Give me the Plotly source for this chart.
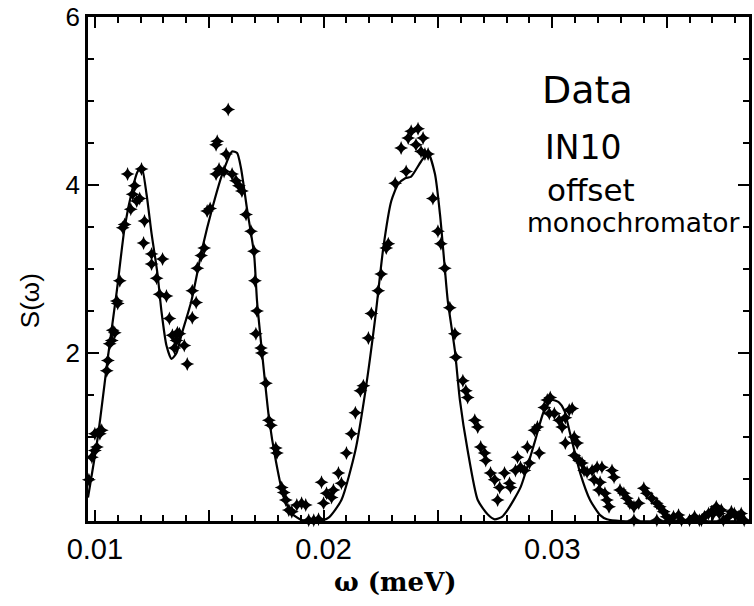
import plotly.graph_objects as go

# Model curve S(omega)
curve_omega = [0.00970, 0.01013, 0.01057, 0.01096, 0.01130, 0.01165, 0.01185, 0.01204,
               0.01226, 0.01248, 0.01274, 0.01291, 0.01313, 0.01335, 0.01357, 0.01378,
               0.01422, 0.01470, 0.01513, 0.01557, 0.01600, 0.01622, 0.01639, 0.01665,
               0.01696, 0.01709, 0.01730, 0.01761, 0.01791, 0.01826, 0.01861, 0.01904,
               0.01978, 0.02022, 0.02078, 0.02139, 0.02183, 0.02226, 0.02261, 0.02296,
               0.02326, 0.02357, 0.02383, 0.02426, 0.02457, 0.02487, 0.02509, 0.02530,
               0.02543, 0.02574, 0.02596, 0.02630, 0.02674, 0.02717, 0.02748, 0.02780,
               0.02804, 0.02861, 0.02922, 0.02965, 0.03000, 0.03030, 0.03052, 0.03078,
               0.03122, 0.03165, 0.03209, 0.03239, 0.03300, 0.03860]
curve_s = [0.28, 1.00, 1.95, 2.74, 3.49, 3.96, 4.15, 4.22,
           3.89, 3.42, 2.94, 2.50, 2.09, 1.93, 2.00, 2.21,
           2.62, 3.25, 3.72, 4.13, 4.40, 4.38, 4.20, 3.72,
           3.18, 2.62, 2.03, 1.23, 0.72, 0.28, 0.09, 0.01,
           0.00, 0.04, 0.25, 0.84, 1.55, 2.42, 3.25, 3.81,
           4.01, 4.08, 4.10, 4.28, 4.38, 4.13, 3.65, 3.01,
           2.62, 2.03, 1.44, 0.84, 0.25, 0.08, 0.02, 0.05,
           0.13, 0.40, 0.93, 1.32, 1.44, 1.41, 1.32, 1.04,
           0.57, 0.25, 0.07, 0.02, 0.00, 0.00]

# Measured data points (IN10, offset monochromator)
data_omega = [0.00974, 0.00987, 0.01000, 0.01000, 0.01009, 0.01022, 0.01022, 0.01030,
              0.01052, 0.01057, 0.01065, 0.01074, 0.01078, 0.01087, 0.01096, 0.01100,
              0.01109, 0.01122, 0.01130, 0.01143, 0.01157, 0.01165, 0.01174, 0.01183,
              0.01196, 0.01204, 0.01217, 0.01213, 0.01248, 0.01248, 0.01270, 0.01283,
              0.01296, 0.01313, 0.01326, 0.01339, 0.01348, 0.01357, 0.01361, 0.01370,
              0.01391, 0.01404, 0.01426, 0.01443, 0.01426, 0.01448, 0.01465, 0.01478,
              0.01491, 0.01504, 0.01530, 0.01543, 0.01565, 0.01530, 0.01535, 0.01574,
              0.01583, 0.01600, 0.01617, 0.01630, 0.01643, 0.01661, 0.01683, 0.01696,
              0.01700, 0.01709, 0.01704, 0.01726, 0.01730, 0.01748, 0.01761, 0.01770,
              0.01791, 0.01796, 0.01817, 0.01826, 0.01835, 0.01848, 0.01861, 0.01883,
              0.01904, 0.01922, 0.01870, 0.01935, 0.01957, 0.01978, 0.01991, 0.02000,
              0.02013, 0.02035, 0.02043, 0.02065, 0.02078, 0.02100, 0.02122, 0.02139,
              0.02161, 0.02174, 0.02196, 0.02209,
              0.02239, 0.02252, 0.02274, 0.02283, 0.02313, 0.02339, 0.02361, 0.02370,
              0.02383, 0.02404, 0.02413, 0.02426, 0.02435, 0.02443, 0.02457, 0.02478,
              0.02500, 0.02513, 0.02530, 0.02552, 0.02574, 0.02578, 0.02609, 0.02622,
              0.02630, 0.02661, 0.02674, 0.02687, 0.02704, 0.02709, 0.02730, 0.02748,
              0.02770, 0.02761, 0.02791, 0.02813, 0.02817, 0.02848, 0.02839, 0.02861,
              0.02878, 0.02900, 0.02891, 0.02922, 0.02935, 0.02943, 0.02965, 0.02978,
              0.02991, 0.02987, 0.03009, 0.03030, 0.03043, 0.03057, 0.03074, 0.03087,
              0.03057, 0.03096, 0.03109, 0.03096, 0.03117, 0.03130, 0.03139, 0.03152,
              0.03174, 0.03196, 0.03217, 0.03261, 0.03270, 0.03183, 0.03209, 0.03204,
              0.03230, 0.03239, 0.03248, 0.03296, 0.03313, 0.03326, 0.03339, 0.03357,
              0.03378, 0.03400, 0.03413, 0.03435, 0.03457, 0.03470, 0.03357, 0.03370,
              0.03391, 0.03422, 0.03487, 0.03500, 0.03513, 0.03509, 0.03530, 0.03552,
              0.03565, 0.03574, 0.03587, 0.03600, 0.03622, 0.03643, 0.03665, 0.03683,
              0.03704, 0.03717, 0.03730, 0.03748, 0.03752, 0.03770, 0.03783, 0.03796,
              0.03813, 0.03826, 0.03839, 0.03848, 0.03630, 0.03696, 0.03739, 0.03804,
              0.03652, 0.03543, 0.03457]
data_s = [0.49, 0.76, 0.84, 1.04, 0.88, 1.08, 1.04, 1.08,
          1.79, 1.91, 2.11, 2.15, 2.27, 2.24, 2.62, 2.59,
          2.86, 3.49, 3.53, 4.13, 3.71, 3.89, 3.99, 3.81,
          3.84, 4.19, 3.57, 3.31, 3.18, 3.06, 2.89, 2.70,
          3.12, 2.68, 2.41, 2.21, 2.06, 2.15, 2.24, 2.23,
          2.09, 1.87, 2.42, 2.60, 2.74, 3.01, 3.16, 3.25,
          3.69, 3.72, 4.13, 4.19, 4.16, 4.48, 4.52, 4.37,
          4.90, 4.13, 4.05, 3.99, 3.93, 3.65, 3.45, 3.21,
          2.86, 2.50, 2.23, 2.06, 2.00, 1.64, 1.20, 1.14,
          0.87, 0.81, 0.40, 0.34, 0.25, 0.13, 0.11, 0.19,
          0.21, 0.19, -0.07, 0.01, 0.01, 0.02, 0.46, 0.21,
          0.33, 0.28, 0.37, 0.57, 0.45, 0.81, 1.04, 1.29,
          1.55, 1.61, 2.18, 2.47,
          2.74, 2.94, 3.25, 3.30, 4.02, 4.44, 4.16, 4.56,
          4.64, 4.48, 4.67, 4.40, 4.56, 4.37, 4.37, 3.84,
          3.45, 3.30, 3.01, 2.54, 2.23, 1.95, 1.67, 1.55,
          1.47, 1.20, 1.12, 0.88, 0.81, 0.72, 0.57, 0.49,
          0.40, 0.25, 0.57, 0.45, 0.40, 0.76, 0.60, 0.64,
          0.60, 0.69, 0.88, 1.08, 1.12, 0.81, 1.35, 1.44,
          1.47, 1.28, 1.28, 1.20, 1.12, 1.23, 1.32, 1.34,
          0.93, 1.00, 0.93, 0.78, 0.72, 0.69, 0.60, 0.58,
          0.60, 0.64, 0.64, 0.60, 0.52, 0.49, 0.46, 0.37,
          0.33, 0.25, 0.17, 0.37, 0.33, 0.27, 0.21, 0.17,
          0.21, 0.39, 0.33, 0.27, 0.21, 0.17, 0.01, -0.05,
          -0.02, -0.07, 0.11, 0.05, 0.01, -0.14, 0.05, 0.07,
          0.01, -0.11, -0.07, 0.01, 0.05, 0.01, 0.05, 0.09,
          0.09, 0.17, 0.09, 0.01, -0.13, 0.05, 0.11, 0.09,
          0.05, 0.09, 0.01, -0.05, -0.05, 0.11, 0.13, -0.02,
          0.01, -0.05, 0.01]

x_tick_vals = [0.01, 0.015, 0.02, 0.025, 0.03, 0.035]
x_tick_text = ["0.01", "", "0.02", "", "0.03", ""]
x_minor_vals = [0.011, 0.012, 0.013, 0.014, 0.016, 0.017, 0.018, 0.019, 0.021, 0.022,
                0.023, 0.024, 0.026, 0.027, 0.028, 0.029, 0.031, 0.032, 0.033, 0.034,
                0.036, 0.037, 0.038]
y_tick_vals = [2, 4, 6]
y_tick_text = ["2", "4", "6"]
y_minor_vals = [0.5, 1, 1.5, 2.5, 3, 3.5, 4.5, 5, 5.5]

fig = go.Figure()
fig.add_trace(go.Scatter(
    x=data_omega, y=data_s, mode="markers",
    marker=dict(symbol="star-diamond", size=10, color="black", line=dict(width=0)),
    cliponaxis=False, showlegend=False))
fig.add_trace(go.Scatter(
    x=curve_omega, y=curve_s, mode="lines",
    line=dict(color="black", width=2.2, shape="spline", smoothing=0.6),
    showlegend=False))

axis_common = dict(showline=True, linecolor="black", linewidth=2.5, mirror="allticks",
                   ticks="inside", tickcolor="black", tickwidth=2, ticklen=11,
                   showgrid=False, zeroline=False)

fig.update_xaxes(range=[0.0097, 0.0386], tickmode="array", tickvals=x_tick_vals,
                 ticktext=x_tick_text,
                 tickfont=dict(family="Liberation Sans", size=29, color="black"),
                 minor=dict(ticks="inside", ticklen=6, tickwidth=1.5, tickcolor="black",
                            tickmode="array", tickvals=x_minor_vals, showgrid=False),
                 **axis_common)
fig.update_yaxes(range=[0, 6], tickmode="array", tickvals=y_tick_vals,
                 ticktext=y_tick_text,
                 tickfont=dict(family="Liberation Sans", size=26, color="black"),
                 minor=dict(ticks="inside", ticklen=6, tickwidth=1.5, tickcolor="black",
                            tickmode="array", tickvals=y_minor_vals, showgrid=False),
                 **axis_common)

L, R, T, B = 88, 2, 15, 85
W, H = 754, 606
pw, ph = W - L - R, H - T - B

def px(xp):
    return (xp - L) / pw

def py(yp):
    return (H - B - yp) / ph

annotations = [
    dict(text="S(ω)", x=px(30), y=py(300), textangle=-90,
         font=dict(family="Liberation Sans", size=26, color="black")),
    dict(text="<b>ω (meV)</b>", x=px(397), y=py(582),
         font=dict(family="DejaVu Serif", size=26, color="black")),
    dict(text="Data", x=px(542), y=py(88), xanchor="left",
         font=dict(family="DejaVu Sans", size=38, color="black")),
    dict(text="IN10", x=px(545), y=py(146), xanchor="left",
         font=dict(family="DejaVu Sans", size=33, color="black")),
    dict(text="offset", x=px(547), y=py(189), xanchor="left",
         font=dict(family="DejaVu Sans", size=31, color="black")),
    dict(text="monochromator", x=px(527), y=py(221), xanchor="left",
         font=dict(family="DejaVu Sans", size=26.5, color="black")),
]
for a in annotations:
    a.update(xref="paper", yref="paper", showarrow=False, yanchor="middle")
    a.setdefault("xanchor", "center")

fig.update_layout(width=W, height=H, margin=dict(l=L, r=R, t=T, b=B, pad=0),
                  paper_bgcolor="white", plot_bgcolor="white",
                  annotations=annotations, showlegend=False)

fig.write_html("out.html", config={"displayModeBar": False},
               post_script="document.body.style.margin='0';")
